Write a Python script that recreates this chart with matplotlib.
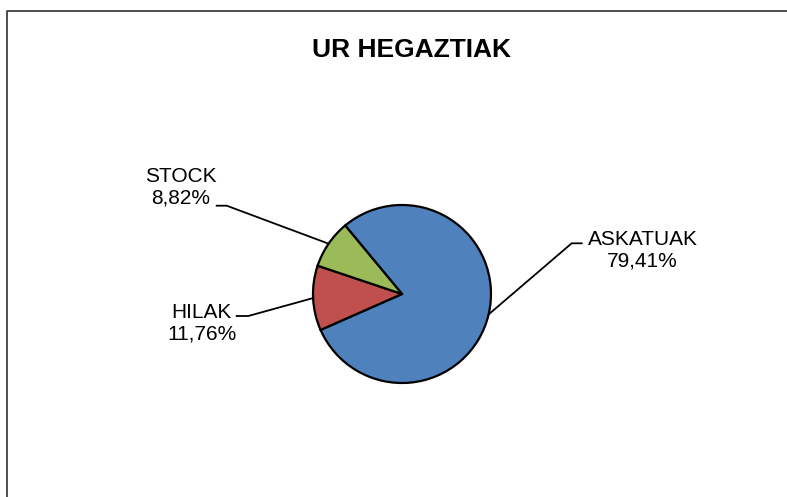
import numpy as np
import matplotlib
matplotlib.use("Agg")
import matplotlib.pyplot as plt

plt.rcParams["font.family"] = ["Liberation Sans", "DejaVu Sans"]

# data
labels = ["ASKATUAK", "HILAK", "STOCK"]
shares = [79.41, 11.76, 8.82]
colors = ["#4F81BD", "#C0504D", "#9BBB59"]
title = "UR HEGAZTIAK"

W, H = 787, 497
fig = plt.figure(figsize=(W / 100, H / 100), dpi=100)
ax = fig.add_axes([0, 0, 1, 1])

cx, cy, r = 402, H - 294, 89
wedges, _ = ax.pie(shares, colors=colors, startangle=129.7, counterclock=False,
                   center=(cx, cy), radius=r, frame=True,
                   wedgeprops=dict(edgecolor="black", linewidth=1.6))
ax.set_xlim(0, W)
ax.set_ylim(0, H)
ax.set_aspect("equal")
ax.axis("off")

# label block centre, elbow point, end of horizontal stub (image px)
label_layout = {
    "ASKATUAK": dict(text=(642.5, 250), elbow=(571.7, 243.3), stub=581.7),
    "HILAK": dict(text=(201.7, 323.5), elbow=(248.3, 316), stub=236.7),
    "STOCK": dict(text=(181, 187.5), elbow=(226.7, 205.7), stub=216.7),
}

for w, lab, val in zip(wedges, labels, shares):
    lay = label_layout[lab]
    mid = np.deg2rad((w.theta1 + w.theta2) / 2)
    ex, ey = cx + r * np.cos(mid), cy + r * np.sin(mid)
    bx, by = lay["elbow"]
    by = H - by
    ax.plot([ex, bx, lay["stub"]], [ey, by, by], color="black", lw=1.3,
            solid_joinstyle="miter", zorder=3)
    tx, ty = lay["text"]
    ax.text(tx, H - ty, f"{lab}\n{val:.2f}%".replace(".", ","), ha="center",
            va="center", fontsize=15, linespacing=1.15)

ax.text(412, H - 50, title, ha="center", va="center", fontsize=19,
        fontweight="bold")

# chart frame (right and bottom edges fall outside the image)
ax.plot([7, 7, W + 5], [-5, H - 10.5, H - 10.5], color="#404040", lw=1.3,
        clip_on=False)

fig.savefig("out.png", dpi=100)
